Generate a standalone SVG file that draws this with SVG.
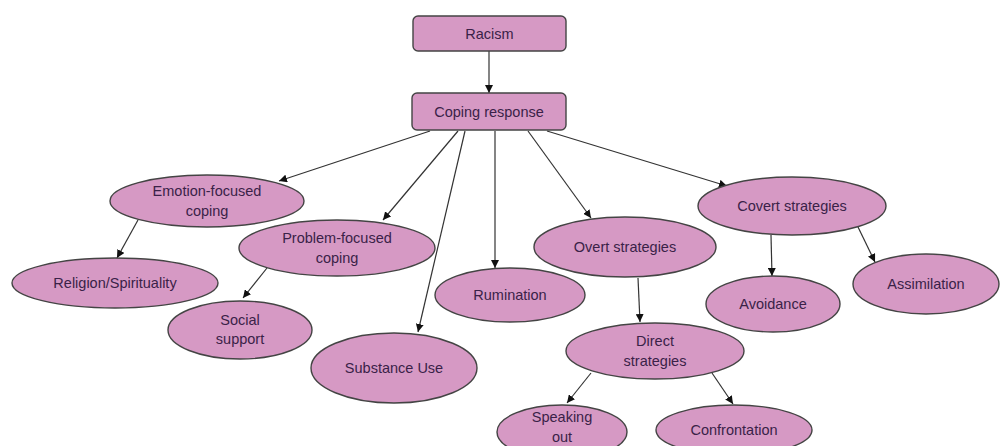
<svg xmlns="http://www.w3.org/2000/svg" width="1000" height="446" viewBox="0 0 1000 446">
<defs>
<marker id="ah" viewBox="0 0 10 10" refX="10" refY="5" markerWidth="8" markerHeight="8" markerUnits="userSpaceOnUse" orient="auto">
<path d="M0,0 L10,5 L0,10 z" fill="#111"/>
</marker>
<style>
.n{fill:#d699c4;stroke:#444;stroke-width:1.4}
.t{font-family:"Liberation Sans",Arial,sans-serif;font-size:14.5px;fill:#3a2248;text-anchor:middle}
.c{stroke:#333;stroke-width:1.2;fill:none;marker-end:url(#ah)}
</style>
</defs>
<rect width="1000" height="446" fill="#fff"/>
<g id="connectors">
<line class="c" x1="489" y1="51" x2="489" y2="93"/>
<line class="c" x1="430" y1="131" x2="279" y2="181"/>
<line class="c" x1="458" y1="131" x2="383" y2="220"/>
<line class="c" x1="465" y1="131" x2="418" y2="332"/>
<line class="c" x1="495" y1="131" x2="495" y2="268"/>
<line class="c" x1="528" y1="131" x2="591" y2="218"/>
<line class="c" x1="547" y1="131" x2="727" y2="186"/>
<line class="c" x1="138" y1="220" x2="117" y2="258"/>
<line class="c" x1="267" y1="268" x2="243" y2="298"/>
<line class="c" x1="638" y1="278" x2="640" y2="322"/>
<line class="c" x1="591" y1="373" x2="567" y2="403"/>
<line class="c" x1="712" y1="373" x2="733" y2="404"/>
<line class="c" x1="771" y1="235" x2="772" y2="276"/>
<line class="c" x1="858" y1="227" x2="875" y2="262"/>
</g>
<g id="racism"><rect class="n" x="413" y="16" width="153" height="35" rx="5"/><text class="t" x="489.5" y="38.5">Racism</text></g>
<g id="coping"><rect class="n" x="412" y="93" width="154" height="37" rx="5"/><text class="t" x="489" y="116.5">Coping response</text></g>
<g id="emotion"><ellipse class="n" cx="207" cy="201" rx="97" ry="26"/><text class="t" x="207" y="196">Emotion-focused</text><text class="t" x="207" y="216">coping</text></g>
<g id="problem"><ellipse class="n" cx="337" cy="248" rx="98" ry="28"/><text class="t" x="337" y="243">Problem-focused</text><text class="t" x="337" y="263">coping</text></g>
<g id="religion"><ellipse class="n" cx="115" cy="283" rx="103" ry="25"/><text class="t" x="115" y="288">Religion/Spirituality</text></g>
<g id="social"><ellipse class="n" cx="240" cy="330" rx="72" ry="29"/><text class="t" x="240" y="325">Social</text><text class="t" x="240" y="344">support</text></g>
<g id="substance"><ellipse class="n" cx="394" cy="368" rx="83" ry="35"/><text class="t" x="394" y="373">Substance Use</text></g>
<g id="rumination"><ellipse class="n" cx="510" cy="295" rx="75" ry="27"/><text class="t" x="510" y="300">Rumination</text></g>
<g id="overt"><ellipse class="n" cx="625" cy="247" rx="91" ry="30"/><text class="t" x="625" y="252">Overt strategies</text></g>
<g id="direct"><ellipse class="n" cx="655" cy="351" rx="89" ry="28"/><text class="t" x="655" y="346">Direct</text><text class="t" x="655" y="366">strategies</text></g>
<g id="covert"><ellipse class="n" cx="792" cy="206" rx="94" ry="29"/><text class="t" x="792" y="211">Covert strategies</text></g>
<g id="avoidance"><ellipse class="n" cx="773" cy="304" rx="67" ry="28"/><text class="t" x="773" y="309">Avoidance</text></g>
<g id="assimilation"><ellipse class="n" cx="926" cy="284" rx="73" ry="30"/><text class="t" x="926" y="289">Assimilation</text></g>
<g id="speaking"><ellipse class="n" cx="562" cy="432" rx="65" ry="27"/><text class="t" x="562" y="422">Speaking</text><text class="t" x="562" y="442">out</text></g>
<g id="confrontation"><ellipse class="n" cx="734" cy="430" rx="78" ry="25"/><text class="t" x="734" y="435">Confrontation</text></g>
</svg>
